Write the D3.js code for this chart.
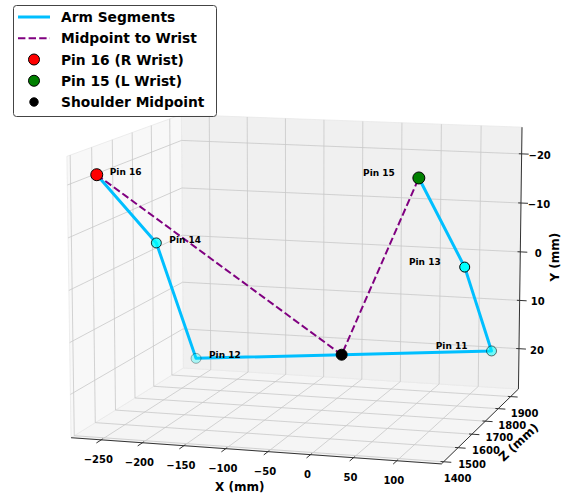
<!DOCTYPE html>
<html>
<head>
<meta charset="utf-8">
<script src="https://cdn.jsdelivr.net/npm/d3@7"></script>
<style>
  html, body { margin: 0; padding: 0; background: #fff; }
  svg { display: block; font-family: "DejaVu Sans", sans-serif; font-weight: bold; }
</style>
</head>
<body>
<svg id="chart" width="565" height="499"></svg>
<script>
// keypoints in mm (Y is vertical, Z is depth)
const pinNames = ['Pin 11', 'Pin 12', 'Pin 13', 'Pin 14', 'Pin 15', 'Pin 16'];
const pinX = [124.1, -255.3, 133.7, -237.6, 106.2, -258.6];
const pinY = [19.6, 24.6, -3.0, -5.15, -22.5, -21.7];
const pinZ = [1915, 1903, 1641, 1618, 1481, 1413];

const armChain = ['Pin 16', 'Pin 14', 'Pin 12', 'Pin 11', 'Pin 13', 'Pin 15'];
const labelLeft = ['Pin 11', 'Pin 13', 'Pin 15'];

const xTicks = [-250, -200, -150, -100, -50, 0, 50, 100];
const yTicks = [-20, -10, 0, 10, 20];
const zTicks = [1400, 1500, 1600, 1700, 1800, 1900];
const xDomain = [-287, 151];
const yDomain = [-25.4, 28.4];
const zDomain = [1385, 1965];

const legendLabels = ['Arm Segments', 'Midpoint to Wrist', 'Pin 16 (R Wrist)', 'Pin 15 (L Wrist)', 'Shoulder Midpoint'];

const svg = d3.select('#chart');

/**
 * simple perspective camera
 */
const rad = Math.PI / 180;
const azim = 16.5 * rad;
const elev = 10.3 * rad;
const ca = Math.cos(azim), sa = Math.sin(azim);
const ct = Math.cos(elev), st = Math.sin(elev);
const dist = 15.6, scale = 185, cx = 303, cy = 278;

const xs = d3.scaleLinear().domain(xDomain).range([-1, 1]);
const zs = d3.scaleLinear().domain(zDomain).range([-0.912, 0.912]);
const ys = d3.scaleLinear().domain(yDomain).range([0.745, -0.745]);

function project (x, y, z) {
	const px = xs(x), pz = zs(z), py = ys(y);
	const right = px * ca + pz * sa;
	const fwd = -px * sa + pz * ca;
	const up = fwd * st + py * ct;
	const depth = fwd * ct - py * st;
	const k = dist / (dist + depth);
	return [cx + scale * right * k, cy - scale * up * k, depth];
}

const line = d3.line().x(d => d[0]).y(d => d[1]);
const seg = (a, b) => line([project(...a), project(...b)]);

const [x0, x1] = xDomain;
const [y0, y1] = yDomain;
const [z0, z1] = zDomain;
const xr = x1 - x0, zr = z1 - z0;

// panes
const panes = [
	{ fill: '#f5f5f5', pts: [[x0, y1, z0], [x1, y1, z0], [x1, y1, z1], [x0, y1, z1]] },
	{ fill: '#f0f0f0', pts: [[x0, y0, z1], [x1, y0, z1], [x1, y1, z1], [x0, y1, z1]] },
	{ fill: '#f8f8f8', pts: [[x0, y0, z0], [x0, y0, z1], [x0, y1, z1], [x0, y1, z0]] },
];

svg.append('g').selectAll('path')
	.data(panes)
	.enter()
	.append('path')
	.attr('d', d => line(d.pts.map(p => project(...p))) + 'Z')
	.attr('fill', d => d.fill)
	.attr('stroke', '#e8e8e8')
	.attr('stroke-width', 0.8);

// grid
const grid = svg.append('g')
	.attr('stroke', '#c8c8c8')
	.attr('stroke-width', 0.8)
	.attr('fill', 'none');

xTicks.forEach(x => {
	grid.append('path').attr('d', seg([x, y1, z0], [x, y1, z1]));
	grid.append('path').attr('d', seg([x, y1, z1], [x, y0, z1]));
});
zTicks.forEach(z => {
	grid.append('path').attr('d', seg([x0, y1, z], [x1, y1, z]));
	grid.append('path').attr('d', seg([x0, y1, z], [x0, y0, z]));
});
yTicks.forEach(y => {
	grid.append('path').attr('d', seg([x0, y, z1], [x1, y, z1]));
	grid.append('path').attr('d', seg([x0, y, z0], [x0, y, z1]));
});

// axes
const axes = svg.append('g')
	.attr('stroke', '#333')
	.attr('stroke-width', 1)
	.attr('fill', 'none');

axes.append('path').attr('d', seg([x0, y1, z0], [x1, y1, z0]));
axes.append('path').attr('d', seg([x1, y1, z0], [x1, y1, z1]));
axes.append('path').attr('d', seg([x1, y0, z1], [x1, y1, z1]));

xTicks.forEach(x => axes.append('path').attr('d', seg([x, y1, z0 + 0.012 * zr], [x, y1, z0 - 0.04 * zr])));
zTicks.forEach(z => axes.append('path').attr('d', seg([x1 - 0.008 * xr, y1, z], [x1 + 0.02 * xr, y1, z])));
yTicks.forEach(y => axes.append('path').attr('d', seg([x1 - 0.008 * xr, y, z1], [x1 + 0.02 * xr, y, z1])));

const fmt = d3.format('d');
const tickText = svg.append('g')
	.attr('font-size', 10)
	.attr('text-anchor', 'middle')
	.attr('dominant-baseline', 'central')
	.attr('fill', '#000');

xTicks.forEach(x => {
	const p = project(x, y1, z0);
	tickText.append('text').attr('x', p[0] - 3).attr('y', p[1] + 20).text(fmt(x));
});
zTicks.forEach(z => {
	const p = project(x1, y1, z);
	tickText.append('text').attr('x', p[0] + 14).attr('y', p[1] + 16.5).text(fmt(z));
});
yTicks.forEach(y => {
	const p = project(x1, y, z1);
	tickText.append('text').attr('x', p[0] + 18).attr('y', p[1] + 1.5).text(fmt(y));
});

// axis titles
const titles = svg.append('g')
	.attr('font-size', 12)
	.attr('text-anchor', 'middle')
	.attr('dominant-baseline', 'central');

const xMid = project((x0 + x1) / 2, y1, z0);
titles.append('text')
	.attr('x', xMid[0] - 13).attr('y', xMid[1] + 36)
	.text('X (mm)');

const zMid = project(x1, y1, (z0 + z1) / 2);
titles.append('text')
	.attr('transform', `translate(${zMid[0] + 36.5},${zMid[1] + 18}) rotate(-43)`)
	.text('Z (mm)');

const yMid = project(x1, (y0 + y1) / 2, z1);
titles.append('text')
	.attr('transform', `translate(${yMid[0] + 34.5},${yMid[1] - 2}) rotate(-90)`)
	.text('Y (mm)');

// points
const pins = {};
pinNames.forEach((n, i) => pins[n] = [pinX[i], pinY[i], pinZ[i]]);
const mid = [
	(pins['Pin 11'][0] + pins['Pin 12'][0]) / 2,
	(pins['Pin 11'][1] + pins['Pin 12'][1]) / 2,
	(pins['Pin 11'][2] + pins['Pin 12'][2]) / 2,
];

svg.append('path')
	.attr('d', line(armChain.map(n => project(...pins[n]))))
	.attr('fill', 'none')
	.attr('stroke', '#00bfff')
	.attr('stroke-width', 3)
	.attr('stroke-linejoin', 'round');

svg.append('path')
	.attr('d', line([pins['Pin 16'], mid, pins['Pin 15']].map(p => project(...p))))
	.attr('fill', 'none')
	.attr('stroke', '#800080')
	.attr('stroke-width', 2)
	.attr('stroke-dasharray', '7.4,3.2');

// joints with depth shading (farther = fainter)
const joints = ['Pin 11', 'Pin 12', 'Pin 13', 'Pin 14'].map(n => {
	const p = project(...pins[n]);
	return { name: n, x: p[0], y: p[1], depth: p[2] };
});
const shade = d3.scaleLinear()
	.domain(d3.extent(joints, d => d.depth))
	.range([1, 0.3]);

svg.append('g').selectAll('circle')
	.data(joints)
	.enter()
	.append('circle')
	.attr('cx', d => d.x)
	.attr('cy', d => d.y)
	.attr('r', 5)
	.attr('fill', '#00ffff')
	.attr('stroke', '#000')
	.attr('stroke-width', 1)
	.attr('fill-opacity', d => shade(d.depth))
	.attr('stroke-opacity', d => shade(d.depth));

const specials = [
	{ p: project(...pins['Pin 16']), fill: '#ff0000', r: 6 },
	{ p: project(...pins['Pin 15']), fill: '#008000', r: 6 },
	{ p: project(...mid), fill: '#000000', r: 5.5 },
];
svg.append('g').selectAll('circle')
	.data(specials)
	.enter()
	.append('circle')
	.attr('cx', d => d.p[0])
	.attr('cy', d => d.p[1])
	.attr('r', d => d.r)
	.attr('fill', d => d.fill)
	.attr('stroke', '#000')
	.attr('stroke-width', 1);

// pin labels
svg.append('g').selectAll('text')
	.data(pinNames)
	.enter()
	.append('text')
	.attr('font-size', 9)
	.attr('dominant-baseline', 'central')
	.attr('text-anchor', n => labelLeft.includes(n) ? 'end' : 'start')
	.attr('x', n => project(...pins[n])[0] + (labelLeft.includes(n) ? -24 : 13))
	.attr('y', n => project(...pins[n])[1] + (labelLeft.includes(n) ? -5 : -3))
	.text(n => n);

// legend
const legend = svg.append('g');
legend.append('rect')
	.attr('x', 13.5).attr('y', 5.5)
	.attr('width', 203).attr('height', 111)
	.attr('rx', 3)
	.attr('fill', '#fff')
	.attr('fill-opacity', 0.8)
	.attr('stroke', '#444')
	.attr('stroke-width', 1);

const rowY = d3.scalePoint().domain(legendLabels).range([17, 102]);

legend.append('line')
	.attr('x1', 18).attr('x2', 50)
	.attr('y1', rowY(legendLabels[0])).attr('y2', rowY(legendLabels[0]))
	.attr('stroke', '#00bfff').attr('stroke-width', 3);
legend.append('line')
	.attr('x1', 18).attr('x2', 50)
	.attr('y1', rowY(legendLabels[1])).attr('y2', rowY(legendLabels[1]))
	.attr('stroke', '#800080').attr('stroke-width', 2)
	.attr('stroke-dasharray', '7.4,3.2');

const legendDots = [
	{ label: legendLabels[2], fill: '#ff0000', r: 5.5 },
	{ label: legendLabels[3], fill: '#008000', r: 5.5 },
	{ label: legendLabels[4], fill: '#000000', r: 4.2 },
];
legend.selectAll('circle')
	.data(legendDots)
	.enter()
	.append('circle')
	.attr('cx', 34)
	.attr('cy', d => rowY(d.label))
	.attr('r', d => d.r)
	.attr('fill', d => d.fill)
	.attr('stroke', '#000')
	.attr('stroke-width', 1);

legend.selectAll('text')
	.data(legendLabels)
	.enter()
	.append('text')
	.attr('x', 61)
	.attr('y', d => rowY(d))
	.attr('font-size', 13.8)
	.attr('dominant-baseline', 'central')
	.text(d => d);
</script>
</body>
</html>
